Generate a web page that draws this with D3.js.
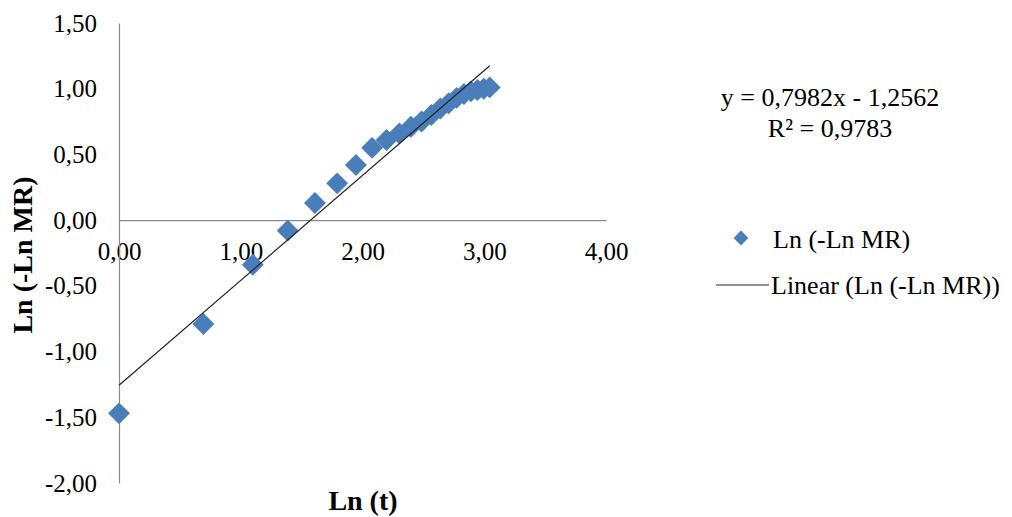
<!DOCTYPE html>
<html>
<head>
<meta charset="utf-8">
<script src="https://cdn.jsdelivr.net/npm/d3@7"></script>
<style>
  body { margin: 0; background: #fff; }
  svg text { font-family: "Liberation Serif", "Times New Roman", serif; fill: #000; }
</style>
</head>
<body>
<div id="chart"></div>
<script>
// ln(t) and ln(-ln MR)
var lnT = [0, 0.693, 1.099, 1.386, 1.609, 1.792, 1.946, 2.079, 2.197, 2.303, 2.398,
           2.485, 2.565, 2.639, 2.708, 2.773, 2.833, 2.890, 2.944, 2.996, 3.045];
var lnLnMR = [-1.47, -0.79, -0.34, -0.08, 0.13, 0.28, 0.42, 0.55, 0.61, 0.66, 0.71,
              0.75, 0.80, 0.85, 0.89, 0.93, 0.96, 0.98, 0.99, 1.00, 1.01];
var slope = 0.7982, intercept = -1.2562;
var xTicks = [0, 1, 2, 3, 4];
var yTicks = [-2, -1.5, -1, -0.5, 0, 0.5, 1, 1.5];
var eqLines = ["y = 0,7982x - 1,2562", "R\u00b2 = 0,9783"];
var legendLabels = ["Ln (-Ln MR)", "Linear (Ln (-Ln MR))"];

var W = 1012, H = 517;
var fmt = function(v) { return d3.format(".2f")(v).replace(".", ",").replace("\u2212", "-"); };

var x = d3.scaleLinear().domain([0, 4]).range([119, 606]);
var y = d3.scaleLinear().domain([-2, 1.5]).range([483, 23]);

var svg = d3.select("#chart").append("svg")
  .attr("width", W).attr("height", H);

// axes
var xAxis = d3.axisBottom(x).tickValues(xTicks).tickFormat(fmt).tickSize(0).tickPadding(22);
var yAxis = d3.axisLeft(y).tickValues(yTicks).tickFormat(fmt).tickSize(0).tickPadding(22);

var gx = svg.append("g").attr("transform", "translate(0," + y(0) + ")").call(xAxis);
var gy = svg.append("g").attr("transform", "translate(" + x(0) + ",0)").call(yAxis);
[gx, gy].forEach(function(g) {
  g.attr("font-family", null);
  g.select(".domain").attr("stroke", "#8a8a8a").attr("stroke-width", 1.2);
  g.selectAll("text").style("font-size", "25px");
});

// points
var pts = lnT.map(function(d, i) { return [d, lnLnMR[i]]; });
svg.selectAll(".pt").data(pts).enter().append("path")
  .attr("class", "pt")
  .attr("d", d3.symbol().type(d3.symbolSquare).size(240))
  .attr("transform", function(d) { return "translate(" + x(d[0]) + "," + y(d[1]) + ") rotate(45)"; })
  .attr("fill", "#4a7ebb");

// trend line
var xMax = d3.max(lnT);
svg.append("line")
  .attr("x1", x(0)).attr("y1", y(intercept))
  .attr("x2", x(xMax)).attr("y2", y(slope * xMax + intercept))
  .attr("stroke", "#222").attr("stroke-width", 1.2);

// equation
svg.selectAll(".eq").data(eqLines).enter().append("text")
  .attr("class", "eq")
  .attr("x", 830).attr("y", function(d, i) { return 106 + i * 31; })
  .attr("text-anchor", "middle")
  .style("font-size", "26px")
  .text(function(d) { return d; });

// legend
var lg = svg.append("g");
lg.append("path")
  .attr("d", d3.symbol().type(d3.symbolSquare).size(110))
  .attr("transform", "translate(741,238) rotate(45)")
  .attr("fill", "#4a7ebb");
lg.append("line").attr("x1", 716).attr("x2", 769).attr("y1", 285).attr("y2", 285)
  .attr("stroke", "#222").attr("stroke-width", 1.2);
lg.selectAll("text").data(legendLabels).enter().append("text")
  .attr("x", function(d, i) { return i === 0 ? 773 : 771; })
  .attr("y", function(d, i) { return 248 + i * 46; })
  .style("font-size", "26px")
  .text(function(d) { return d; });

// axis titles
svg.append("text")
  .attr("x", 363).attr("y", 510)
  .attr("text-anchor", "middle")
  .style("font-size", "28px").style("font-weight", "bold")
  .text("Ln (t)");
svg.append("text")
  .attr("transform", "translate(32,255) rotate(-90)")
  .attr("text-anchor", "middle")
  .style("font-size", "28px").style("font-weight", "bold")
  .text("Ln (-Ln MR)");
</script>
</body>
</html>
